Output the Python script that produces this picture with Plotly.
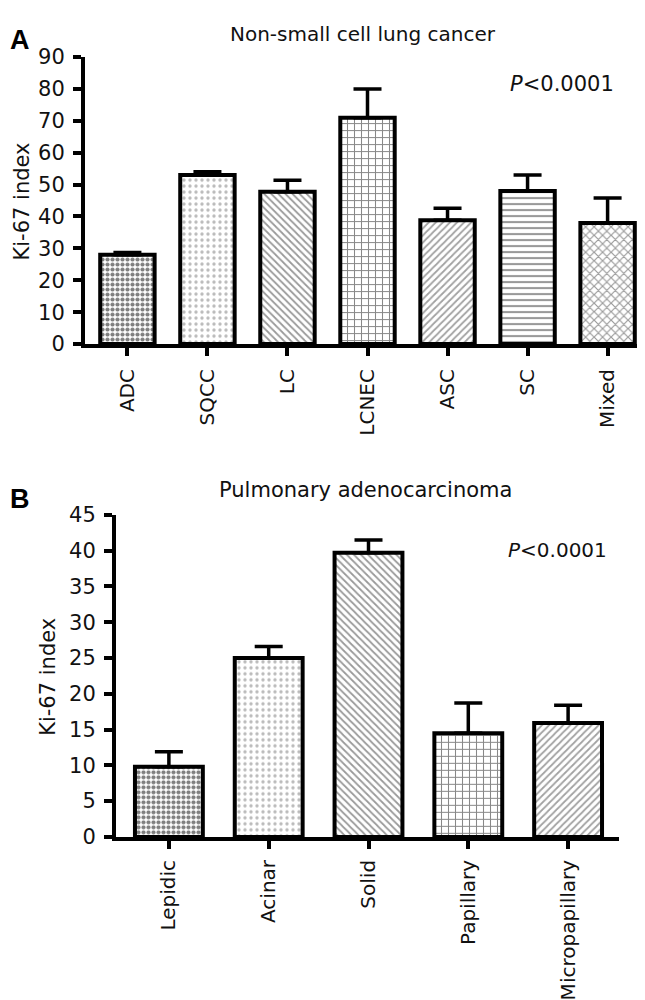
import plotly.graph_objects as go

# Panel A: non-small cell lung cancer subtypes
nsclc_types = ["ADC", "SQCC", "LC", "LCNEC", "ASC", "SC", "Mixed"]
nsclc_ki67 = [28.0, 53.0, 47.8, 71.0, 38.8, 48.0, 38.0]
nsclc_sem = [0.7, 1.0, 3.6, 9.0, 3.8, 5.0, 7.8]

# Panel B: pulmonary adenocarcinoma subtypes
adc_types = ["Lepidic", "Acinar", "Solid", "Papillary", "Micropapillary"]
adc_ki67 = [9.8, 25.0, 39.7, 14.5, 15.9]
adc_sem = [2.1, 1.6, 1.8, 4.2, 2.5]

FONT = "DejaVu Sans, Liberation Sans, Arial, sans-serif"
W, H = 645, 1000
INK = "#111"

# hatch styles per bar (pattern shape, fg colour, size, solidity)
STYLE = {
    "dense_dots": (".", "#000000", 5, 0.55),
    "light_dots": (".", "#777777", 6, 0.25),
    "back_hatch": ("\\", "#333333", 5, 0.35),
    "grid": ("+", "#111111", 7, 0.28),
    "fwd_hatch": ("/", "#444444", 5, 0.35),
    "hlines": ("-", "#333333", 6, 0.35),
    "cross": ("x", "#333333", 6, 0.35),
}
nsclc_style = ["dense_dots", "light_dots", "back_hatch", "grid", "fwd_hatch", "hlines", "cross"]
adc_style = ["dense_dots", "light_dots", "back_hatch", "grid", "fwd_hatch"]


def bar_trace(cats, vals, errs, styles, xa, ya):
    pat = [STYLE[s] for s in styles]
    return go.Bar(
        x=cats, y=vals, xaxis=xa, yaxis=ya, width=0.68,
        marker=dict(
            color="white",
            line=dict(color="black", width=4),
            pattern=dict(
                shape=[p[0] for p in pat],
                fgcolor=[p[1] for p in pat],
                bgcolor="white",
                size=[p[2] for p in pat],
                solidity=[p[3] for p in pat],
            ),
        ),
        error_y=dict(type="data", symmetric=False, array=errs,
                     arrayminus=[0] * len(errs), color="black",
                     thickness=3.5, width=14),
        showlegend=False,
    )


fig = go.Figure()
fig.add_trace(bar_trace(nsclc_types, nsclc_ki67, nsclc_sem, nsclc_style, "x", "y"))
fig.add_trace(bar_trace(adc_types, adc_ki67, adc_sem, adc_style, "x2", "y2"))

axis_common = dict(showline=True, linewidth=4, linecolor="black",
                   ticks="outside", ticklen=8, tickwidth=3.5, tickcolor="black",
                   showgrid=False, zeroline=False)
ytick_font = dict(family=FONT, size=21, color=INK)
xtick_font = dict(family=FONT, size=20, color=INK)

fig.update_layout(
    width=W, height=H,
    margin=dict(l=0, r=0, t=0, b=0),
    plot_bgcolor="white", paper_bgcolor="white",
    xaxis=dict(domain=[77 / W, 638 / W], range=[-0.53, 6.48], anchor="y",
               tickangle=-90, ticklabelstandoff=5, tickfont=xtick_font, **axis_common),
    yaxis=dict(domain=[1 - 332 / H, 1 - 38 / H], range=[0, 90], dtick=10,
               anchor="x", ticklabelstandoff=4, tickfont=ytick_font, **axis_common),
    xaxis2=dict(domain=[108 / W, 611 / W], range=[-0.53, 4.51], anchor="y2",
                tickangle=-90, ticklabelstandoff=3, tickfont=xtick_font, **axis_common),
    yaxis2=dict(domain=[1 - 837 / H, 1 - 507 / H], range=[0, 45], dtick=5,
                anchor="x2", ticklabelstandoff=4, tickfont=ytick_font, **axis_common),
)

ann_font = dict(family=FONT, size=20, color=INK)
annotations = [
    dict(text="<b>A</b>", x=0, y=1 - 3 / H, xanchor="left", yanchor="top",
         font=dict(family="Liberation Sans, Arial", size=27, color="black")),
    dict(text="Non-small cell lung cancer", x=355 / W, y=1 - 14 / H,
         xanchor="center", yanchor="middle", font=ann_font),
    dict(text="<i>P</i>&lt;0.0001", x=554 / W, y=1 - 66 / H,
         xanchor="center", yanchor="middle", font=dict(family=FONT, size=21, color=INK)),
    dict(text="Ki-67 index", x=14 / W, y=1 - 186 / H, textangle=-90,
         xanchor="center", yanchor="middle", font=dict(family=FONT, size=21, color=INK)),
    dict(text="<b>B</b>", x=0, y=1 - 473 / H, xanchor="left", yanchor="top",
         font=dict(family="Liberation Sans, Arial", size=27, color="black")),
    dict(text="Pulmonary adenocarcinoma", x=357 / W, y=1 - 482 / H,
         xanchor="center", yanchor="middle", font=dict(family=FONT, size=21, color=INK)),
    dict(text="<i>P</i>&lt;0.0001", x=549 / W, y=1 - 543 / H,
         xanchor="center", yanchor="middle", font=dict(family=FONT, size=20, color=INK)),
    dict(text="Ki-67 index", x=40 / W, y=1 - 673 / H, textangle=-90,
         xanchor="center", yanchor="middle", font=dict(family=FONT, size=21, color=INK)),
]
for a in annotations:
    a.update(xref="paper", yref="paper", showarrow=False)
fig.update_layout(annotations=annotations)

fig.write_html("out.html")
